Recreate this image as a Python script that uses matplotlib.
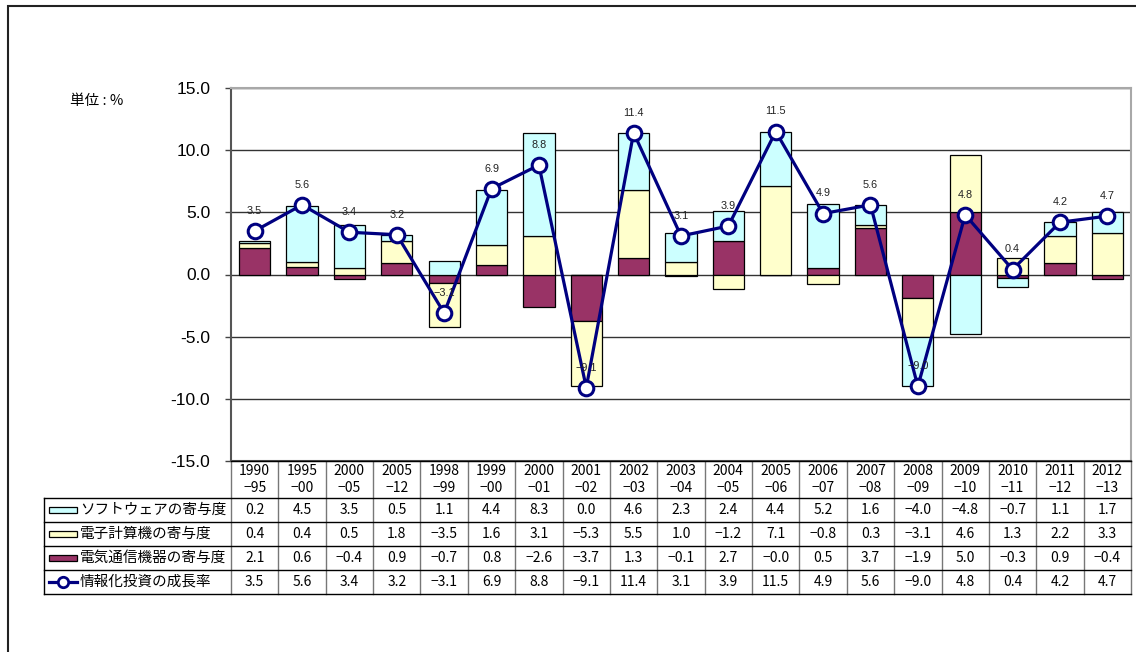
import numpy as np
import matplotlib.pyplot as plt
from matplotlib.patches import Rectangle
from matplotlib.lines import Line2D

plt.rcParams['font.family'] = ['Liberation Sans', 'Noto Sans CJK JP', 'DejaVu Sans']
plt.rcParams['axes.unicode_minus'] = False

periods = ["1990\n−95", "1995\n−00", "2000\n−05", "2005\n−12", "1998\n−99", "1999\n−00",
           "2000\n−01", "2001\n−02", "2002\n−03", "2003\n−04", "2004\n−05", "2005\n−06",
           "2006\n−07", "2007\n−08", "2008\n−09", "2009\n−10", "2010\n−11", "2011\n−12",
           "2012\n−13"]
software = [0.2, 4.5, 3.5, 0.5, 1.1, 4.4, 8.3, 0.0, 4.6, 2.3, 2.4, 4.4, 5.2, 1.6, -4.0, -4.8, -0.7, 1.1, 1.7]
computer = [0.4, 0.4, 0.5, 1.8, -3.5, 1.6, 3.1, -5.3, 5.5, 1.0, -1.2, 7.1, -0.8, 0.3, -3.1, 4.6, 1.3, 2.2, 3.3]
telecom = [2.1, 0.6, -0.4, 0.9, -0.7, 0.8, -2.6, -3.7, 1.3, -0.1, 2.7, -0.0, 0.5, 3.7, -1.9, 5.0, -0.3, 0.9, -0.4]
growth = [3.5, 5.6, 3.4, 3.2, -3.1, 6.9, 8.8, -9.1, 11.4, 3.1, 3.9, 11.5, 4.9, 5.6, -9.0, 4.8, 0.4, 4.2, 4.7]

series_names = ["ソフトウェアの寄与度", "電子計算機の寄与度", "電気通信機器の寄与度", "情報化投資の成長率"]
c_soft = '#CCFFFF'
c_comp = '#FFFFCC'
c_tel = '#993366'
c_line = '#000080'

W, H = 1136, 652
fig = plt.figure(figsize=(W / 100, H / 100), dpi=100)


def px_axes(l, t, r, b):
    return fig.add_axes([l / W, 1 - b / H, (r - l) / W, (b - t) / H])


def fmt(v):
    return f"{v:.1f}".replace('-', '−')


# outer frame
fig.add_artist(Rectangle((8 / W, -0.2), 1.5, 1 - 6 / H + 0.2, transform=fig.transFigure,
                         fill=False, edgecolor='#222222', lw=1.5))

ax = px_axes(231, 88, 1131, 461)
x = np.arange(len(periods))
ax.set_xlim(-0.5, len(periods) - 0.5)
ax.set_ylim(-15, 15)

pos = np.zeros(len(x))
neg = np.zeros(len(x))
for vals, col in [(telecom, c_tel), (computer, c_comp), (software, c_soft)]:
    v = np.array(vals)
    bottom = np.where(v >= 0, pos, neg)
    ax.bar(x, v, 0.66, bottom=bottom, color=col, edgecolor='black', lw=0.9, zorder=2)
    pos += np.clip(v, 0, None)
    neg += np.clip(v, None, 0)

ax.plot(x, growth, color=c_line, lw=2.3, marker='o', ms=10.5, mfc='white', mec=c_line,
        mew=2.2, zorder=4)
for xi, g in zip(x, growth):
    ax.annotate(fmt(g), (xi, g), xytext=(0, 14.5), textcoords='offset points',
                ha='center', va='center', fontsize=7.8, color='#222222', zorder=5)

ax.set_yticks(np.arange(-15, 16, 5))
ax.set_yticklabels([f"{t:.1f}" for t in np.arange(-15, 16, 5)], fontsize=12.5)
ax.set_xticks([])
ax.tick_params(axis='y', length=4, width=1, pad=11, color='#444444')
ax.grid(axis='y', color='#333333', lw=1, zorder=1)
ax.set_axisbelow(True)
for s in ['left', 'bottom']:
    ax.spines[s].set_color('#555555')
    ax.spines[s].set_linewidth(1.5)
for s in ['top', 'right']:
    ax.spines[s].set_color('#a8a8a8')
    ax.spines[s].set_linewidth(1.5)

fig.text(70 / W, 1 - 101 / H, "単位 : %", fontsize=10.5, ha='left', va='center',
         family=['Noto Sans CJK JP', 'DejaVu Sans'])

# data table below the chart
tab = px_axes(44, 461, 1131, 594)
cw = 900 / len(periods)
xl = -0.5 - 187 / cw
xr = len(periods) - 0.5
tab.set_xlim(xl, xr)
tab.set_ylim(133, 0)
tab.axis('off')
rows = [0, 37, 61, 85, 109, 133]

for i in range(len(periods) + 1):
    tab.plot([i - 0.5, i - 0.5], [0, 133], color='#777777', lw=1, clip_on=False)
tab.plot([xl, xl], [37, 133], color='black', lw=1, clip_on=False)
tab.plot([-0.5, xr], [0, 0], color='black', lw=1, clip_on=False)
for yb in rows[1:]:
    tab.plot([xl, xr], [yb, yb], color='black', lw=1, clip_on=False)

tfont = ['Noto Sans CJK JP', 'DejaVu Sans']
for i, p in enumerate(periods):
    tab.text(i, 18.5, p, ha='center', va='center', fontsize=10, family=tfont, linespacing=1.3)

table_rows = [software, computer, telecom, growth]
for r, vals in enumerate(table_rows):
    yc = (rows[r + 1] + rows[r + 2]) / 2
    for i, v in enumerate(vals):
        tab.text(i, yc + 0.5, fmt(v), ha='center', va='center', fontsize=10, family=tfont)
    tab.text(xl + 36 / cw, yc, series_names[r], ha='left', va='center', fontsize=10.5, family=tfont)

sx0 = xl + 5 / cw
sx1 = xl + 33 / cw
for r, col in enumerate([c_soft, c_comp, c_tel]):
    yc = (rows[r + 1] + rows[r + 2]) / 2
    tab.add_patch(Rectangle((sx0, yc - 3), sx1 - sx0, 6, facecolor=col, edgecolor='black',
                            lw=0.9, clip_on=False))
yc = (rows[4] + rows[5]) / 2
tab.add_line(Line2D([sx0, sx1], [yc, yc], color=c_line, lw=2.3, clip_on=False))
tab.plot([(sx0 + sx1) / 2], [yc], marker='o', ms=7.5, mfc='white', mec=c_line, mew=2,
         clip_on=False)

fig.savefig('out.png', dpi=100)
